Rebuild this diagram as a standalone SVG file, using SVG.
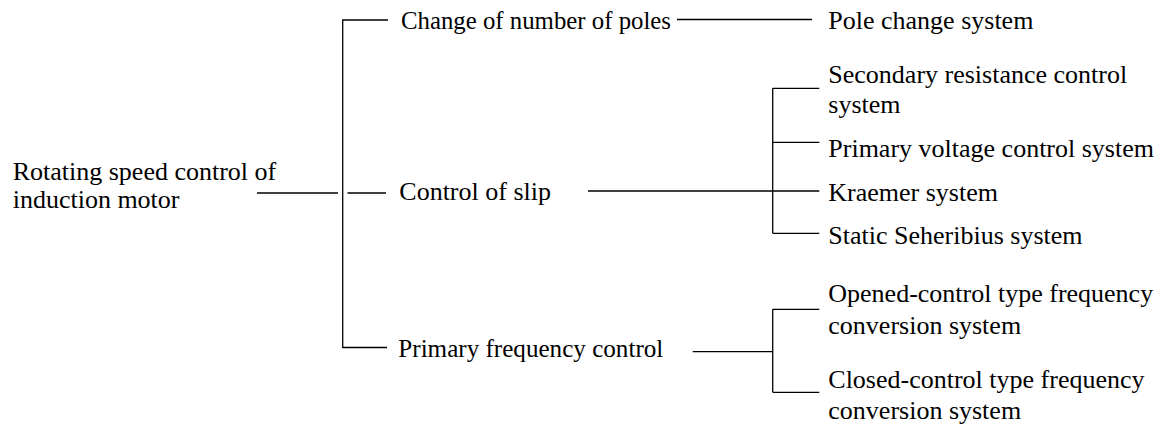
<svg xmlns="http://www.w3.org/2000/svg" width="1162" height="425" viewBox="0 0 1162 425">
<style>
text{font-family:"Liberation Serif","Times New Roman",serif;font-size:26px;fill:#000}
.c line{stroke:#000;stroke-width:1.3;fill:none}
</style>
<rect width="1162" height="425" fill="#fff"/>
<g class="c" id="connectors">
<line x1="257" y1="193" x2="338" y2="193"/>
<line x1="342.7" y1="19.5" x2="342.7" y2="348"/>
<line x1="342.7" y1="20" x2="388" y2="20"/>
<line x1="347.5" y1="193" x2="386" y2="193"/>
<line x1="342.7" y1="347.5" x2="387" y2="347.5"/>
<line x1="677" y1="19.5" x2="812" y2="19.5"/>
<line x1="588" y1="191" x2="772.7" y2="191"/>
<line x1="772.7" y1="88.3" x2="772.7" y2="233.3"/>
<line x1="772.7" y1="88.3" x2="819.3" y2="88.3"/>
<line x1="772.7" y1="142.3" x2="819.3" y2="142.3"/>
<line x1="772.7" y1="191" x2="819.3" y2="191"/>
<line x1="772.7" y1="233.3" x2="819.3" y2="233.3"/>
<line x1="692.7" y1="351.7" x2="772.7" y2="351.7"/>
<line x1="772.7" y1="309.3" x2="772.7" y2="392.3"/>
<line x1="772.7" y1="309.3" x2="819.3" y2="309.3"/>
<line x1="772.7" y1="392.3" x2="819.3" y2="392.3"/>
</g>
<g id="root"><text x="12.7" y="180">Rotating speed control of</text><text x="12.7" y="208">induction motor</text></g>
<g id="poles"><text x="401" y="29" textLength="270" lengthAdjust="spacingAndGlyphs">Change of number of poles</text></g>
<g id="slip"><text x="399.3" y="200">Control of slip</text></g>
<g id="freq"><text x="398.3" y="357" textLength="265" lengthAdjust="spacingAndGlyphs">Primary frequency control</text></g>
<g id="polechange"><text x="828.3" y="29">Pole change system</text></g>
<g id="secres"><text x="828.3" y="83">Secondary resistance control</text><text x="828.3" y="113">system</text></g>
<g id="primvolt"><text x="828.3" y="157">Primary voltage control system</text></g>
<g id="kraemer"><text x="828.3" y="201">Kraemer system</text></g>
<g id="static"><text x="828.3" y="244">Static Seheribius system</text></g>
<g id="opened"><text x="828.3" y="302">Opened-control type frequency</text><text x="828.3" y="334">conversion system</text></g>
<g id="closed"><text x="828.3" y="388">Closed-control type frequency</text><text x="828.3" y="419">conversion system</text></g>
</svg>
